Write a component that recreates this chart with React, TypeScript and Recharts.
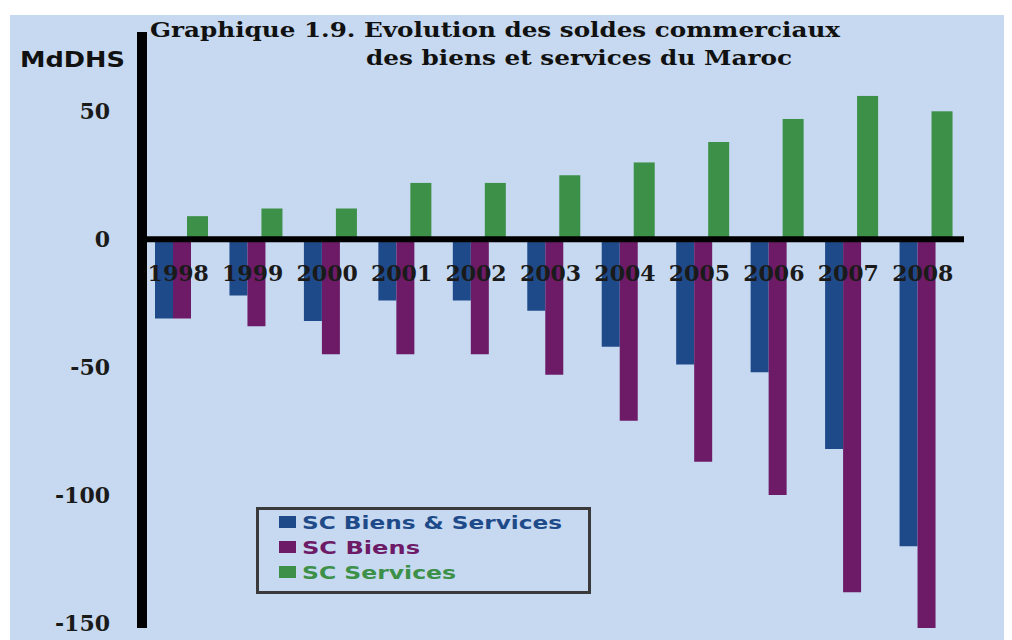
import React from "react";
import { BarChart, Bar, XAxis, YAxis, ReferenceLine } from "recharts";

// ─── Data (MdDHS) ────────────────────────────────────────────────────────────

const years = ["1998", "1999", "2000", "2001", "2002", "2003", "2004", "2005", "2006", "2007", "2008"];
const scBiensServices = [-31, -22, -32, -24, -24, -28, -42, -49, -52, -82, -120];
const scBiens = [-31, -34, -45, -45, -45, -53, -71, -87, -100, -138, -152];
const scServices = [9, 12, 12, 22, 22, 25, 30, 38, 47, 56, 50];
const yTicks = [-150, -100, -50, 0, 50];

const chartData = years.map((year, i) => ({
  year,
  biensServices: scBiensServices[i],
  biens: scBiens[i],
  services: scServices[i],
}));

// ─── Layout ──────────────────────────────────────────────────────────────────

const CHART_W = 1002;
const CHART_H = 625;
const X_AXIS_H = 2;
const MARGIN = { top: 17, right: 48, bottom: 12 - X_AXIS_H, left: 0 };
const Y_MIN = -152;
const Y_MAX = 81;
const PLOT_H = CHART_H - MARGIN.top - MARGIN.bottom - X_AXIS_H;
// year labels sit just under the zero line
const ZERO_Y = MARGIN.top + (PLOT_H * Y_MAX) / (Y_MAX - Y_MIN);

const BLUE = "#1f4a8a";
const PURPLE = "#6d1b67";
const GREEN = "#3c9048";
const BG = "#c6d9f0";

const legendItems = [
  { label: "SC Biens & Services", color: BLUE, width: 260 },
  { label: "SC Biens", color: PURPLE, width: 118 },
  { label: "SC Services", color: GREEN, width: 154 },
];

function YearTick(props: any) {
  const { x, payload } = props;
  return (
    <text
      x={x}
      y={ZERO_Y + 34}
      dx={-4}
      textAnchor="middle"
      dominantBaseline="central"
      fontFamily="'DejaVu Serif', serif"
      fontWeight="bold"
      fontSize={22}
      fill="#1a1a1a"
    >
      {payload?.value}
    </text>
  );
}

// services bars overlap the magenta slot a little, as in the source
function ServicesBar(props: any) {
  const { x, y, width, height } = props;
  return <rect x={x - 4} y={y} width={width + 3} height={height} fill={GREEN} />;
}

export default function App() {
  return (
    <div
      style={{
        position: "relative",
        width: CHART_W,
        height: CHART_H,
        marginTop: 7,
        marginLeft: 2,
        background: BG,
      }}
    >
      <BarChart
        width={CHART_W}
        height={CHART_H}
        data={chartData}
        margin={MARGIN}
        barSize={18}
        barGap={0}
      >
        <ReferenceLine y={0} stroke="#000" strokeWidth={6} />
        <Bar dataKey="biensServices" name="SC Biens & Services" fill={BLUE} isAnimationActive={false} />
        <Bar dataKey="biens" name="SC Biens" fill={PURPLE} isAnimationActive={false} />
        <Bar
          dataKey="services"
          name="SC Services"
          fill={GREEN}
          shape={ServicesBar}
          isAnimationActive={false}
        />
        <XAxis
          dataKey="year"
          height={X_AXIS_H}
          padding={{ left: 3, right: 0 }}
          axisLine={false}
          tickLine={false}
          interval={0}
          tick={YearTick}
        />
        <YAxis
          domain={[Y_MIN, Y_MAX]}
          ticks={yTicks}
          interval={0}
          width={132}
          tickLine={false}
          tickSize={0}
          tickMargin={32}
          axisLine={{ stroke: "#000", strokeWidth: 10 }}
          tick={{
            fontSize: 22,
            fontWeight: "bold",
            fontFamily: "'DejaVu Serif', serif",
            fill: "#1a1a1a",
          }}
        />
      </BarChart>

      <svg
        width={CHART_W}
        height={CHART_H}
        style={{ position: "absolute", left: 0, top: 0, pointerEvents: "none" }}
      >
        {/* Title */}
        <g fontFamily="'DejaVu Serif', serif" fontWeight="bold" fontSize={21} fill="#111">
          <text x={140} y={22} textLength={690} lengthAdjust="spacingAndGlyphs">
            Graphique 1.9. Evolution des soldes commerciaux
          </text>
          <text x={356} y={50} textLength={426} lengthAdjust="spacingAndGlyphs">
            des biens et services du Maroc
          </text>
        </g>
        <text
          x={10}
          y={52}
          fontFamily="'DejaVu Sans', sans-serif"
          fontWeight="bold"
          fontSize={22}
          fill="#111"
          textLength={105}
          lengthAdjust="spacingAndGlyphs"
        >
          MdDHS
        </text>

        {/* Legend */}
        <rect x={247.5} y={493.5} width={332} height={84} fill="none" stroke="#3a3a3a" strokeWidth={3} />
        {legendItems.map((item, i) => (
          <g key={item.label}>
            <rect x={269} y={501 + i * 25} width={17} height={12} fill={item.color} />
            <text
              x={292}
              y={514 + i * 25}
              fontFamily="'DejaVu Sans', sans-serif"
              fontWeight="bold"
              fontSize={18}
              fill={item.color}
              textLength={item.width}
              lengthAdjust="spacingAndGlyphs"
            >
              {item.label}
            </text>
          </g>
        ))}
      </svg>
    </div>
  );
}
